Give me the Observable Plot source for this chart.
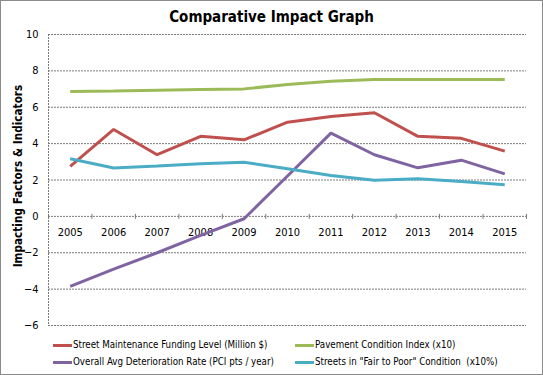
<!DOCTYPE html>
<html>
<head>
<meta charset="utf-8">
<script src="https://cdn.jsdelivr.net/npm/d3@7"></script>
<script src="https://cdn.jsdelivr.net/npm/@observablehq/plot@0.6"></script>
<style>
  html, body { margin: 0; padding: 0; background: #fff; }
  #chart { position: relative; width: 543px; height: 375px; overflow: hidden; font-family: "DejaVu Sans Condensed", "DejaVu Sans", sans-serif; color: #000; }
  #border { position: absolute; left: 0; top: 0; width: 543px; height: 375px; box-sizing: border-box; border: 1px solid #8a8a8a; pointer-events: none; }
  #title { position: absolute; left: 0; width: 543px; top: 7px; text-align: center; font-weight: bold; font-size: 15px; line-height: 20px; }
  #ylabel { position: absolute; left: 18px; top: 176px; transform: translate(-50%, -50%) rotate(-90deg); white-space: nowrap; font-weight: bold; font-size: 11.5px; letter-spacing: 0.1px; }
  #plot { position: absolute; left: 0; top: 0; }
  .leg { position: absolute; font-size: 9.7px; line-height: 12px; white-space: pre; display: flex; align-items: center; }
  .sw { display: inline-block; width: 19px; height: 3px; margin-right: 1px; }
</style>
</head>
<body>
<div id="chart">
  <div id="plot"></div>
  <div id="title">Comparative Impact Graph</div>
  <div id="ylabel">Impacting Factors &amp; Indicators</div>
  <div id="legend"></div>
  <div id="border"></div>
</div>
<script>
const years = [2005, 2006, 2007, 2008, 2009, 2010, 2011, 2012, 2013, 2014, 2015];
const seriesNames = [
  "Street Maintenance Funding Level (Million $)",
  "Pavement Condition Index (x10)",
  "Overall Avg Deterioration Rate (PCI pts / year)",
  "Streets in \"Fair to Poor\" Condition  (x10%)"
];
const seriesColors = ["#C0504D", "#9BBB59", "#8064A2", "#4BACC6"];
const funding      = [2.75, 4.78, 3.39, 4.40, 4.21, 5.18, 5.49, 5.70, 4.40, 4.29, 3.59];
const pci          = [6.87, 6.90, 6.94, 6.98, 7.01, 7.25, 7.43, 7.53, 7.53, 7.53, 7.53];
const deterioration= [-3.85, -2.90, -2.00, -1.04, -0.13, 2.22, 4.58, 3.39, 2.67, 3.09, 2.34];
const fairToPoor   = [3.17, 2.66, 2.77, 2.89, 2.98, 2.62, 2.25, 1.98, 2.07, 1.92, 1.74];
const yTicks = [-6, -4, -2, 0, 2, 4, 6, 8, 10];

const allSeries = [funding, pci, deterioration, fairToPoor];
const rows = [];
allSeries.forEach((vals, si) => vals.forEach((v, i) => rows.push({series: seriesNames[si], year: years[i], value: v})));

const edges = years.map(y => y - 0.5).concat([years[years.length - 1] + 0.5]);
const gridStyle = {stroke: "#7a7a7a", strokeOpacity: 1, strokeWidth: 1, strokeDasharray: "2,1"};

const chart = Plot.plot({
  width: 543,
  height: 335,
  marginTop: 34,
  marginBottom: 10,
  marginLeft: 48,
  marginRight: 17,
  style: {fontFamily: "'DejaVu Sans Condensed', 'DejaVu Sans', sans-serif", background: "transparent", color: "#000"},
  x: {type: "linear", domain: [edges[0], edges[edges.length - 1]], axis: null},
  y: {domain: [yTicks[0], yTicks[yTicks.length - 1]]},
  color: {domain: seriesNames, range: seriesColors},
  marks: [
    Plot.gridY(yTicks, gridStyle),
    Plot.ruleX([edges[0]], gridStyle),
    Plot.ruleX(edges, {x: d => d, y1: () => 0, y2: () => 0, insetTop: -2, insetBottom: -3, stroke: "#7a7a7a", strokeWidth: 1}),
    Plot.axisY(yTicks, {tickSize: 0, tickPadding: 10, fontSize: 11, label: null}),
    Plot.text(years, {x: d => d, y: () => 0, dy: 16, text: d => String(d), fontSize: 11, fill: "#000"}),
    Plot.line(rows, {x: "year", y: "value", z: "series", stroke: "series", strokeWidth: 3, strokeLinejoin: "miter", strokeLinecap: "butt"})
  ]
});
document.getElementById("plot").appendChild(chart);

const legend = document.getElementById("legend");
const legPos = [[53, 339], [295, 339], [53, 356], [295, 356]];
seriesNames.forEach((name, i) => {
  const d = document.createElement("div");
  d.className = "leg";
  d.style.left = legPos[i][0] + "px";
  d.style.top = legPos[i][1] + "px";
  const s = document.createElement("span");
  s.className = "sw";
  s.style.background = seriesColors[i];
  d.appendChild(s);
  d.appendChild(document.createTextNode(name));
  legend.appendChild(d);
});
</script>
</body>
</html>
